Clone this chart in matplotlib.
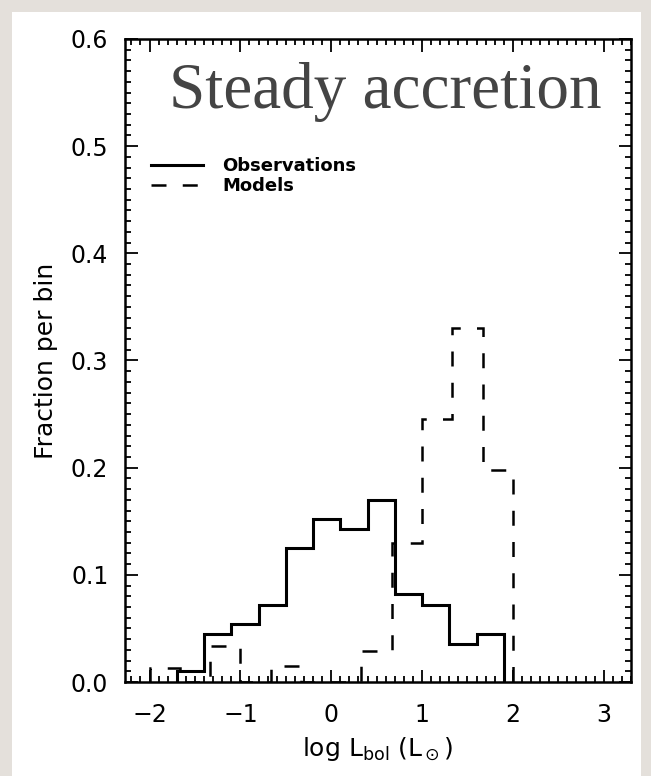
import numpy as np
import matplotlib
matplotlib.use("Agg")
import matplotlib.pyplot as plt
from matplotlib.patches import Rectangle
from matplotlib.ticker import MultipleLocator

plt.rcParams["font.family"] = ["DejaVu Sans"]

# observations: bins of 0.3 dex
obs_edges = [-1.7, -1.4, -1.1, -0.8, -0.5, -0.2, 0.1, 0.4, 0.7, 1.0, 1.3, 1.6, 1.9]
obs_frac = [0.010, 0.045, 0.054, 0.072, 0.125, 0.152, 0.143, 0.170, 0.082, 0.072, 0.035, 0.045]

# models: bins of 1/3 dex
mod_edges = [-2.0, -5/3, -4/3, -1.0, -2/3, -1/3, 0.0, 1/3, 2/3, 1.0, 4/3, 5/3, 2.0]
mod_frac = [0.013, 0.0, 0.034, 0.0, 0.015, 0.0, 0.0, 0.029, 0.130, 0.245, 0.330, 0.198]

fig = plt.figure(figsize=(6.51, 7.76), dpi=100)
fig.patch.set_facecolor("#e4e0db")
fig.patches.append(Rectangle((12/651, 0), 1 - 22/651, 1 - 12/776, transform=fig.transFigure,
                             facecolor="white", edgecolor="none", zorder=-1))

ax = fig.add_axes([125/651, 1 - 682/776, 506/651, 643/776])
ax.stairs(obs_frac, obs_edges, color="black", lw=2.2, label="Observations")
ax.stairs(mod_frac, mod_edges, color="black", lw=1.8, ls=(0, (6, 6.5)), label="Models")

ax.set_xlim(-2.27, 3.3)
ax.set_ylim(0, 0.6)
ax.xaxis.set_major_locator(MultipleLocator(1))
ax.xaxis.set_minor_locator(MultipleLocator(0.1))
ax.yaxis.set_major_locator(MultipleLocator(0.1))
ax.yaxis.set_minor_locator(MultipleLocator(0.01))
ax.yaxis.set_major_formatter(matplotlib.ticker.FormatStrFormatter("%.1f"))
ax.tick_params(which="both", direction="in", top=True, right=True, width=1.3, labelsize=17)
ax.tick_params(axis="x", pad=15)
ax.tick_params(axis="y", pad=12)
ax.tick_params(which="major", length=9)
ax.tick_params(which="minor", length=4.5)
for s in ax.spines.values():
    s.set_linewidth(1.8)

ax.set_xlabel(r"log L$_{\rm bol}$ (L$_\odot$)", fontsize=18, labelpad=6)
ax.set_ylabel("Fraction per bin", fontsize=18, labelpad=9)

ax.text(0.942, 0.892, "Steady accretion", transform=ax.transAxes, ha="right", va="baseline",
        fontsize=47, family="Liberation Serif", color="#444444")

leg = ax.legend(loc="center left", bbox_to_anchor=(0.019, 0.787), frameon=False,
                handlelength=2.9, handletextpad=1.05, labelspacing=0.1,
                prop={"weight": "bold", "size": 13})

fig.savefig("out.png", dpi=100, facecolor=fig.get_facecolor())
